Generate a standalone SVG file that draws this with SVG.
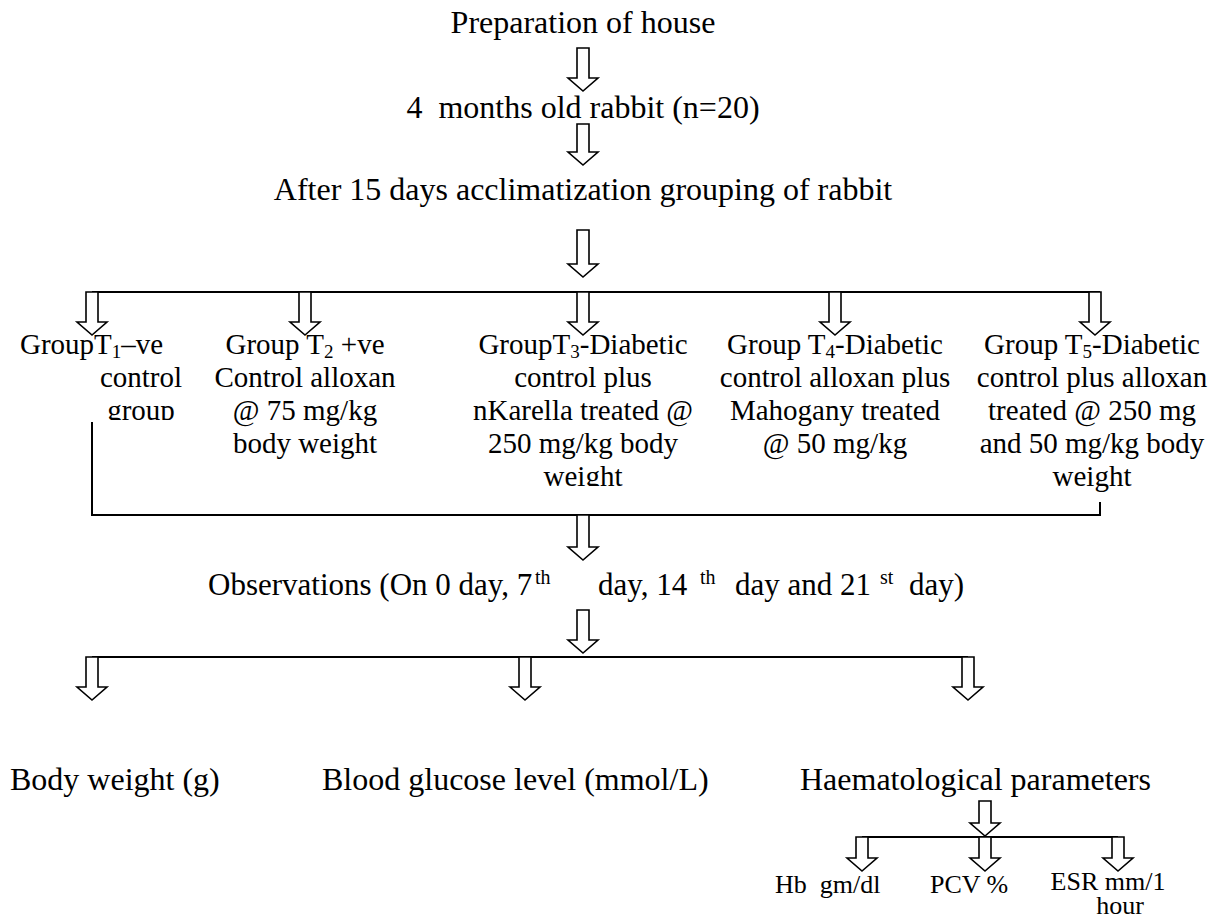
<svg xmlns="http://www.w3.org/2000/svg" width="1230" height="918" viewBox="0 0 1230 918">
<style>
text{font-family:"Liberation Serif","Times New Roman",serif;fill:#000}
.m{font-size:32px}
.o{font-size:31px}
.g{font-size:29px}
.s{font-size:26px}
.sup{font-size:20px}
.c{text-anchor:middle}
.arr{fill:#fff;stroke:#000;stroke-width:1.6;stroke-linejoin:miter}
.ln{stroke:#000;stroke-width:2;fill:none}
</style>
<defs>
<clipPath id="clipT1"><rect x="0" y="0" width="300" height="420"/></clipPath>
<clipPath id="clipT3"><rect x="400" y="0" width="360" height="486"/></clipPath>
</defs>
<g id="connectors">
<path class="arr" d="M577 48V78H568L583 91L598 78H589V48Z"/>
<path class="arr" d="M577 124V152H568L583 165L598 152H589V124Z"/>
<path class="arr" d="M577 230V264H568L583 277L598 264H589V230Z"/>
<path class="ln" d="M92 292H1100"/>
<path class="arr" d="M86 292V322H77L92 335L107 322H98V292Z"/>
<path class="arr" d="M299 292V322H290L305 335L320 322H311V292Z"/>
<path class="arr" d="M577 292V322H568L583 335L598 322H589V292Z"/>
<path class="arr" d="M829 292V322H820L835 335L850 322H841V292Z"/>
<path class="arr" d="M1089 292V322H1080L1095 335L1110 322H1101V292Z"/>
<path class="ln" d="M92 422V515H1100V502"/>
<path class="arr" d="M577 515V547H568L583 560L598 547H589V515Z"/>
<path class="arr" d="M577 610V640H568L583 653L598 640H589V610Z"/>
<path class="ln" d="M92 657H968"/>
<path class="arr" d="M86 657V687H77L92 700L107 687H98V657Z"/>
<path class="arr" d="M519 657V687H510L525 700L540 687H531V657Z"/>
<path class="arr" d="M962 657V687H953L968 700L983 687H974V657Z"/>
<path class="arr" d="M979 801V823H970L985 836L1000 823H991V801Z"/>
<path class="ln" d="M862 837H1118"/>
<path class="arr" d="M856 837V858H847L862 871L877 858H868V837Z"/>
<path class="arr" d="M979 837V858H970L985 871L1000 858H991V837Z"/>
<path class="arr" d="M1112 837V858H1103L1118 871L1133 858H1124V837Z"/>
</g>
<g id="n-prep"><text class="m c" x="583" y="33">Preparation of house</text></g>
<g id="n-rabbit"><text class="m c" x="583" y="118" xml:space="preserve">4  months old rabbit (n=20)</text></g>
<g id="n-group"><text class="m c" x="583" y="200">After 15 days acclimatization grouping of rabbit</text></g>
<g id="n-t1" clip-path="url(#clipT1)">
<text class="g" x="20" y="354">GroupT<tspan font-size="19" dy="4">1</tspan><tspan dy="-4">–ve</tspan></text>
<text class="g c" x="141" y="387">control</text>
<text class="g c" x="141" y="420">group</text>
</g>
<g id="n-t2">
<text class="g c" x="305" y="354">Group T<tspan font-size="19" dy="4">2</tspan><tspan dy="-4"> +ve</tspan></text>
<text class="g c" x="305" y="387">Control alloxan</text>
<text class="g c" x="305" y="420">@ 75 mg/kg</text>
<text class="g c" x="305" y="453">body weight</text>
</g>
<g id="n-t3" clip-path="url(#clipT3)">
<text class="g c" x="583" y="354">GroupT<tspan font-size="19" dy="4">3</tspan><tspan dy="-4">-Diabetic</tspan></text>
<text class="g c" x="583" y="387">control plus</text>
<text class="g c" x="583" y="420">nKarella treated @</text>
<text class="g c" x="583" y="453">250 mg/kg body</text>
<text class="g c" x="583" y="486">weight</text>
</g>
<g id="n-t4">
<text class="g c" x="835" y="354">Group T<tspan font-size="19" dy="4">4</tspan><tspan dy="-4">-Diabetic</tspan></text>
<text class="g c" x="835" y="387">control alloxan plus</text>
<text class="g c" x="835" y="420">Mahogany treated</text>
<text class="g c" x="835" y="453">@ 50 mg/kg</text>
</g>
<g id="n-t5">
<text class="g c" x="1092" y="354">Group T<tspan font-size="19" dy="4">5</tspan><tspan dy="-4">-Diabetic</tspan></text>
<text class="g c" x="1092" y="387">control plus alloxan</text>
<text class="g c" x="1092" y="420">treated @ 250 mg</text>
<text class="g c" x="1092" y="453">and 50 mg/kg body</text>
<text class="g c" x="1092" y="486">weight</text>
</g>
<g id="n-obs">
<text class="o" x="208" y="595">Observations (On 0 day, 7</text>
<text class="sup" x="535" y="584">th</text>
<text class="o" x="598" y="595">day, 14</text>
<text class="sup" x="700" y="584">th</text>
<text class="o" x="735" y="595">day and 21</text>
<text class="sup" x="880" y="584">st</text>
<text class="o" x="909" y="595">day)</text>
</g>
<g id="n-bw"><text class="m" x="10" y="790">Body weight (g)</text></g>
<g id="n-bg"><text class="m" x="322" y="790">Blood glucose level (mmol/L)</text></g>
<g id="n-haem"><text class="m" x="800" y="790">Haematological parameters</text></g>
<g id="n-hb"><text class="s" x="775" y="893" xml:space="preserve">Hb  gm/dl</text></g>
<g id="n-pcv"><text class="s" x="930" y="893">PCV %</text></g>
<g id="n-esr"><text class="s c" x="1108" y="890">ESR mm/1</text><text class="s c" x="1120" y="914">hour</text></g>
</svg>
